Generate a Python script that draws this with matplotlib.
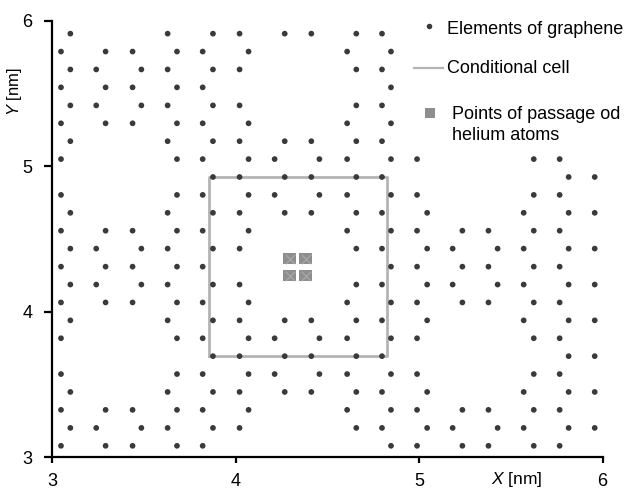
import matplotlib.pyplot as plt
from matplotlib.lines import Line2D

plt.rcParams['font.family'] = ['Liberation Sans', 'DejaVu Sans']
plt.rcParams['mathtext.fontset'] = 'custom'
plt.rcParams['mathtext.it'] = 'Liberation Sans:italic'
plt.rcParams['mathtext.rm'] = 'Liberation Sans'

# x positions (nm) of the lattice columns, odd rows use cols_a, even rows cols_b
cols_a = [3.049, 3.292, 3.439, 3.681, 3.821, 4.071, 4.213, 4.457,
          4.608, 4.847, 4.989, 5.236, 5.378, 5.625, 5.766]
cols_b = [3.100, 3.241, 3.487, 3.630, 3.877, 4.022, 4.268, 4.413,
          4.658, 4.798, 5.044, 5.183, 5.428, 5.570, 5.815, 5.957]

# y positions (nm) of the rows, top to bottom
rows_y = [5.911, 5.788, 5.665, 5.542, 5.418, 5.295, 5.172, 5.049,
          4.926, 4.803, 4.680, 4.557, 4.434, 4.310, 4.187, 4.064,
          3.941, 3.818, 3.695, 3.572, 3.449, 3.326, 3.202, 3.079]

# which columns hold an atom in every row
row_atoms = [
    [0, 3, 4, 5, 6, 7, 8, 9],
    [0, 1, 2, 3, 4, 5, 8, 9],
    [0, 1, 2, 3, 4, 5, 8, 9],
    [0, 1, 2, 3, 4, 9],
    [0, 1, 2, 3, 4, 5, 8, 9],
    [0, 1, 2, 3, 4, 5, 8, 9],
    [0, 3, 4, 5, 6, 7, 8, 9],
    [0, 3, 4, 5, 6, 7, 8, 9, 10, 13, 14],
    [4, 5, 6, 7, 8, 9, 14, 15],
    [0, 3, 4, 5, 6, 7, 8, 9, 10, 13, 14],
    [0, 3, 4, 5, 6, 7, 8, 9, 10, 13, 14, 15],
    [0, 1, 2, 3, 4, 5, 8, 9, 10, 11, 12, 13, 14],
    [0, 1, 2, 3, 4, 5, 8, 9, 10, 11, 12, 13, 14, 15],
    [0, 1, 2, 3, 4, 9, 10, 11, 12, 13, 14],
    [0, 1, 2, 3, 4, 5, 8, 9, 10, 11, 12, 13, 14, 15],
    [0, 1, 2, 3, 4, 5, 8, 9, 10, 11, 12, 13, 14],
    [0, 3, 4, 5, 6, 7, 8, 9, 10, 13, 14, 15],
    [0, 3, 4, 5, 6, 7, 8, 9, 10, 13, 14],
    [4, 5, 6, 7, 8, 9, 14, 15],
    [0, 3, 4, 5, 6, 7, 8, 9, 10, 13, 14],
    [0, 3, 4, 5, 6, 7, 8, 9, 10, 13, 14, 15],
    [0, 1, 2, 3, 4, 5, 8, 9, 10, 11, 12, 13, 14],
    [0, 1, 2, 3, 4, 5, 8, 9, 10, 11, 12, 13, 14, 15],
    [0, 1, 2, 3, 4, 9, 10, 11, 12, 13, 14],
]

# conditional cell and helium passage points
cell_x = [3.853, 4.827]
cell_y = [3.693, 4.927]
helium_x = [4.295, 4.382, 4.295, 4.382]
helium_y = [4.364, 4.364, 4.246, 4.246]

dot_color = '#3a3a3a'
cell_color = '#b4b4b4'
he_color = '#8e8e8e'

xs, ys = [], []
for i, (y, idx) in enumerate(zip(rows_y, row_atoms)):
    cols = cols_b if i % 2 == 0 else cols_a
    for k in idx:
        xs.append(cols[k])
        ys.append(y)

W, H = 635, 491
fig = plt.figure(figsize=(W / 100, H / 100), dpi=100)
ax = fig.add_axes([52 / W, 33.7 / H, 550.6 / W, 436.6 / H])

rect = [(-1.2, -1), (1.2, -1), (1.2, 1), (-1.2, 1), (-1.2, -1)]

x0, x1 = cell_x
y0, y1 = cell_y
ax.plot([x0, x1, x1, x0, x0], [y0, y0, y1, y1, y0], color=cell_color, lw=2, zorder=2)
ax.scatter(xs, ys, s=17, color=dot_color, edgecolors='none', zorder=3)
ax.scatter(helium_x, helium_y, marker=rect, s=90, color=he_color, edgecolors='none', zorder=3)
ax.scatter(helium_x, helium_y, marker='x', s=45, color='#a9a9a9', linewidths=0.9, zorder=4)

ax.set_xlim(3, 6)
ax.set_ylim(3, 6)
ax.set_xticks([3, 4, 5, 6])
ax.set_yticks([3, 4, 5, 6])
ax.spines[['top', 'right']].set_visible(False)
for side in ['left', 'bottom']:
    ax.spines[side].set_linewidth(1.6)
ax.tick_params(axis='x', direction='out', length=4, width=1.6, labelsize=13, pad=7)
ax.tick_params(axis='y', direction='out', length=6, width=1.6, labelsize=13, pad=8)

# axis labels
fig.text(15 / W, 1 - 92 / H, '$Y$ [nm]', rotation=90, ha='center', va='center', fontsize=12)
fig.text(491 / W, 1 - 484 / H, '$X$ [nm]', ha='left', va='baseline', fontsize=12.5)

# legend, drawn by hand
tf = fig.transFigure
fig.add_artist(Line2D([429 / W], [1 - 26 / H], marker='o', ms=4, color=dot_color,
                      markeredgewidth=0, transform=tf))
fig.add_artist(Line2D([414 / W, 443 / W], [1 - 68.5 / H] * 2, color=cell_color, lw=1.6,
                      transform=tf))
fig.add_artist(Line2D([429.5 / W], [1 - 113 / H], marker='s', ms=7.5, color=he_color,
                      markeredgewidth=0, transform=tf))
fig.text(447 / W, 1 - 34 / H, 'Elements of graphene', va='baseline', fontsize=13)
fig.text(447 / W, 1 - 72.7 / H, 'Conditional cell', va='baseline', fontsize=13)
fig.text(452 / W, 1 - 119 / H, 'Points of passage od', va='baseline', fontsize=13)
fig.text(452 / W, 1 - 139.5 / H, 'helium atoms', va='baseline', fontsize=13)

fig.savefig('out.png', dpi=100)
